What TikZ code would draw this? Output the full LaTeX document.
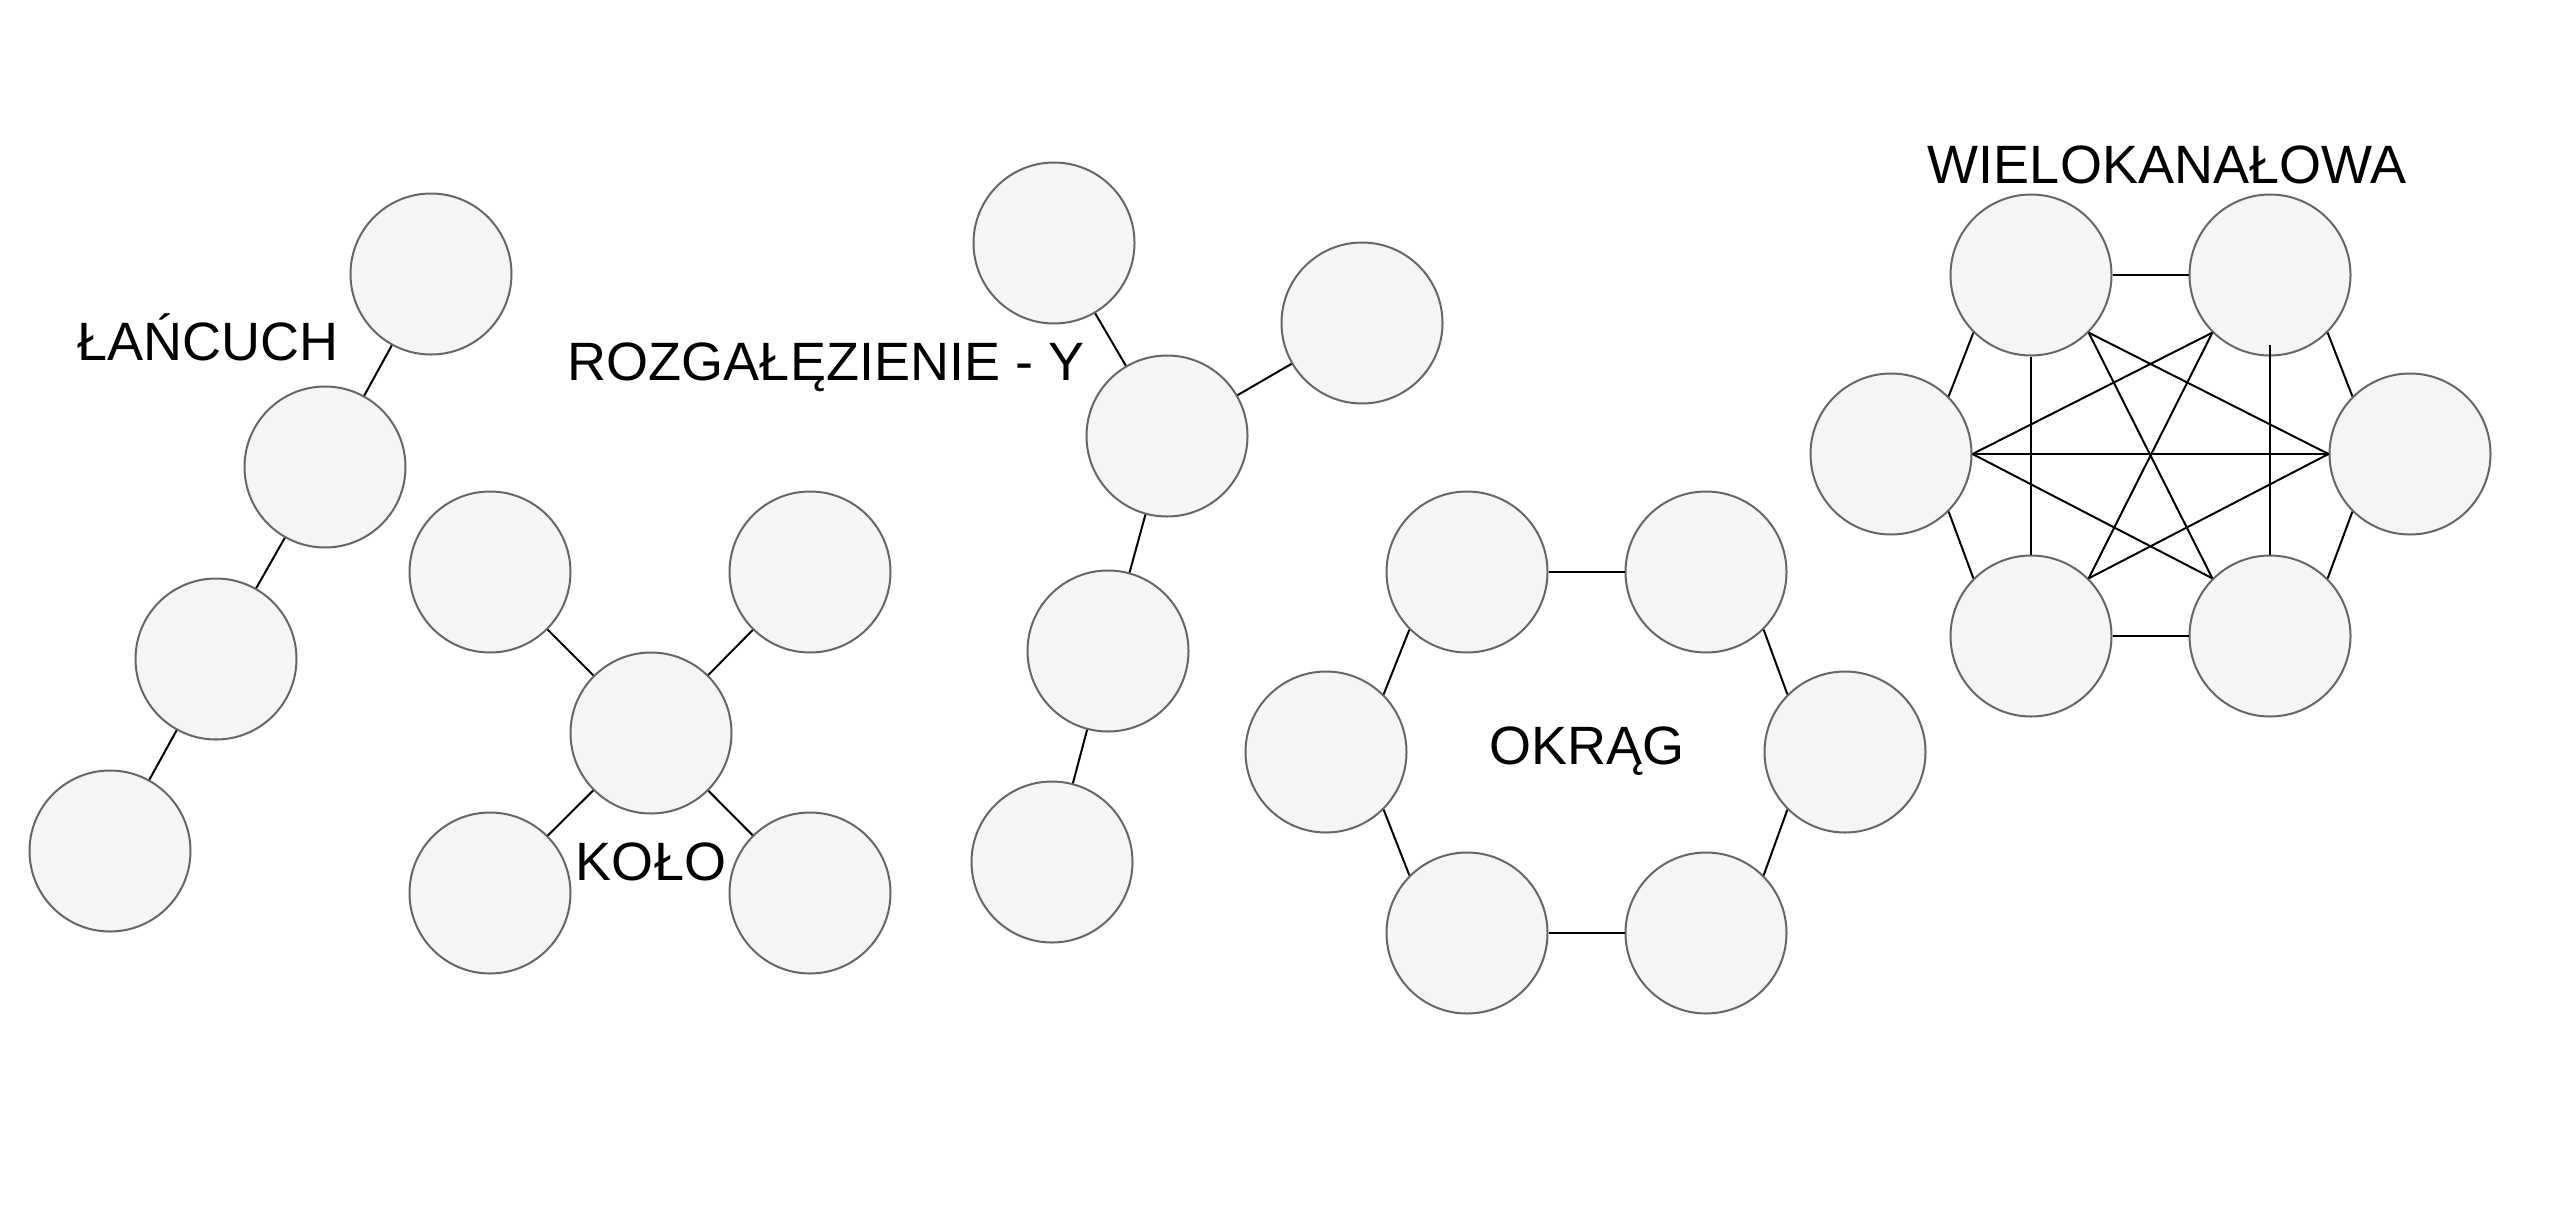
\documentclass[tikz,border=0pt]{standalone}
\usepackage{fontspec}
\setmainfont{Liberation Sans}
\definecolor{nodefill}{HTML}{F5F5F5}
\definecolor{nodeline}{HTML}{666666}
\tikzset{
  netnode/.style={circle, fill=nodefill, draw=nodeline, line width=2pt, minimum size=161pt, inner sep=0pt},
  link/.style={draw=black, line width=2pt},
  lbl/.style={anchor=base, inner sep=0pt, font=\fontsize{54}{60}\selectfont}
}
\begin{document}
\begin{tikzpicture}[x=1pt,y=-1pt]
\useasboundingbox (0,0) rectangle (2570,1208);
% Chain
\node[netnode] (c1) at (431,274) {};
\node[netnode] (c2) at (325,467) {};
\node[netnode] (c3) at (216,659) {};
\node[netnode] (c4) at (110,851) {};
\node[lbl] (tc) at (208,360) {ŁAŃCUCH};
% Star
\node[netnode] (k0) at (651,733) {};
\node[netnode] (k1) at (490,572) {};
\node[netnode] (k2) at (810,572) {};
\node[netnode] (k3) at (490,893) {};
\node[netnode] (k4) at (810,893) {};
\node[lbl] (tk) at (651,880) {KOŁO};
% Y branch
\node[netnode] (r1) at (1054,243) {};
\node[netnode] (r2) at (1362,323) {};
\node[netnode] (r0) at (1167,436) {};
\node[netnode] (r3) at (1108,651) {};
\node[netnode] (r4) at (1052,862) {};
\node[lbl] (tr) at (826,380) {ROZGAŁĘZIENIE - Y};
% Ring
\node[netnode] (o1) at (1467,572) {};
\node[netnode] (o2) at (1706,572) {};
\node[netnode] (o3) at (1845,752) {};
\node[netnode] (o4) at (1706,933) {};
\node[netnode] (o5) at (1467,933) {};
\node[netnode] (o6) at (1326,752) {};
\node[lbl] (to) at (1587,764) {OKRĄG};
% Mesh
\node[netnode] (w1) at (2031,275) {};
\node[netnode] (w2) at (2270,275) {};
\node[netnode] (w3) at (2410,454) {};
\node[netnode] (w4) at (2270,636) {};
\node[netnode] (w5) at (2031,636) {};
\node[netnode] (w6) at (1891,454) {};
\node[lbl] (tw) at (2167,183) {WIELOKANAŁOWA};
\coordinate (w2in) at (2270,345);
% Links
\draw[link] (c1) -- (c2);
\draw[link] (c2) -- (c3);
\draw[link] (c3) -- (c4);
\draw[link] (k0) -- (k1);
\draw[link] (k0) -- (k2);
\draw[link] (k0) -- (k3);
\draw[link] (k0) -- (k4);
\draw[link] (r1) -- (r0);
\draw[link] (r2) -- (r0);
\draw[link] (r0) -- (r3);
\draw[link] (r3) -- (r4);
\draw[link] (o1) -- (o2);
\draw[link] (o2.south east) -- (o3.north west);
\draw[link] (o3.south west) -- (o4.north east);
\draw[link] (o4) -- (o5);
\draw[link] (o5.north west) -- (o6.south east);
\draw[link] (o6.north east) -- (o1.south west);
\draw[link] (w1) -- (w2);
\draw[link] (w5) -- (w4);
\draw[link] (w1.south west) -- (w6.north east);
\draw[link] (w6.south east) -- (w5.north west);
\draw[link] (w2.south east) -- (w3.north west);
\draw[link] (w3.south west) -- (w4.north east);
\draw[link] (w1.south) -- (w5.north);
\draw[link] (w2in) -- (w4.north);
\draw[link] (w6.east) -- (w3.west);
\draw[link] (w6.east) -- (w2.south west);
\draw[link] (w6.east) -- (w4.north west);
\draw[link] (w1.south east) -- (w3.west);
\draw[link] (w5.north east) -- (w3.west);
\draw[link] (w1.south east) -- (w4.north west);
\draw[link] (w2.south west) -- (w5.north east);
\end{tikzpicture}
\end{document}
